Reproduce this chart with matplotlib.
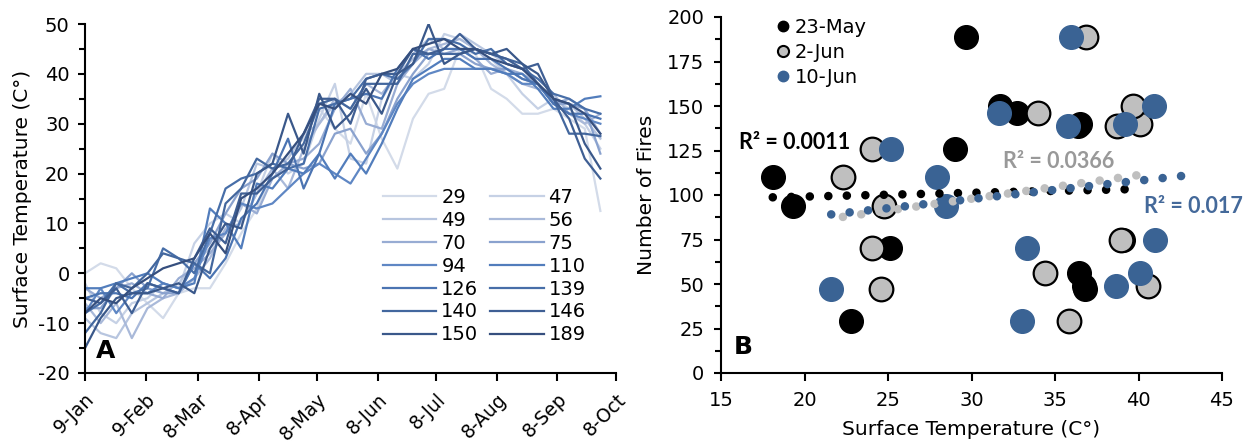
import matplotlib
matplotlib.use('Agg')
import matplotlib.pyplot as plt
from matplotlib.ticker import MultipleLocator
from matplotlib.lines import Line2D

# ---------------- Panel A data ----------------
doy = [9, 17, 25, 33, 41, 49, 57, 65, 73, 81, 89, 97, 105, 113, 121, 129, 137,
       145, 153, 161, 169, 177, 185, 193, 201, 209, 217, 225, 233, 241, 249, 257, 265, 273]

site_labels = ['29', '47', '49', '56', '70', '75', '94', '110', '126', '139', '140', '146', '150', '189']

temp_29  = [0, 2, 1, -3, -6, -9, -4, -3, -3, 2, 8, 13, 20, 24, 27, 33, 29, 26, 36, 27, 21, 31, 36, 37, 45, 44, 37, 35, 32, 32, 33, 31, 29, 12.5]
temp_47  = [-2, -8, -10, -6, -5, -2, -3, 6, 10, 12, 10, 16, 24, 20, 22, 31, 38, 23, 22, 35, 40, 39, 42, 48, 47, 45, 43, 40, 36, 33, 35, 33, 30, 25]
temp_49  = [-9, -12, -13, -8, -6, -4, -2, 2, 5, 8, 13, 22, 21, 23, 28, 30, 34, 36, 40, 40, 38, 44, 47, 45, 48, 46, 44, 42, 41, 38, 35, 34, 31, 27]
temp_56  = [-6, -10, -6, -13, -7, -5, -4, -1, 3, 9, 10, 16, 21, 17, 25, 30, 35, 33, 38, 36, 40, 43, 45, 46, 47, 45, 42, 40, 38, 37, 36, 32, 30, 32]
temp_70  = [-3, -5, -3, -2, -4, -5, -1, 1, 4, 8, 14, 12, 19, 22, 23, 26, 33, 37, 30, 29, 38, 42, 45, 44, 45, 43, 40, 41, 40, 38, 34, 35, 33, 28]
temp_75  = [-7, -7, -3, 0, -3, -4, -4, 2, 6, 12, 17, 19, 24, 22, 21, 22, 28, 29, 24, 28, 35, 40, 44, 44, 44, 42, 41, 41, 39, 38, 34, 34, 33, 24]
temp_94  = [-8, -3, -8, -4, -4, -2, -3, -1, 7, 8, 14, 13, 14, 17, 20, 22, 20, 18, 23, 28, 34, 38, 40, 41, 41, 41, 41, 40, 38, 38, 34, 32, 31, 30]
temp_110 = [-3, -3, -2, -1, 0, -2, -3, -2, 13, 10, 5, 18, 17, 21, 20, 24, 19, 24, 20, 26, 33, 39, 41, 43, 43, 41, 41, 40, 40, 37, 33, 33, 35, 35.5]
temp_126 = [-5, -4, -4, -5, -2, -3, -4, 2, -1, 3, 11, 14, 20, 27, 17, 24, 34, 35, 36, 35, 41, 45, 43, 45, 45, 43, 43, 41, 39, 38, 34, 32, 32, 31]
temp_139 = [-8, -6, -2, -4, -3, 5, 3, 0, 8, 17, 19, 20, 22, 21, 22, 33, 34, 35, 39, 40, 39, 42, 47, 47, 46, 44, 45, 42, 41, 39, 36, 35, 33, 32]
temp_140 = [-12, -8, -2, -3, 0, 4, 3, 2, 0, 14, 17, 23, 21, 22, 26, 34, 35, 33, 38, 38, 38, 44, 44, 44, 44, 45, 44, 43, 42, 38, 35, 28, 28, 27.5]
temp_146 = [-5, -6, -3, -8, -2, -3, -4, 3, 9, 6, 16, 16, 19, 21, 28, 35, 35, 30, 39, 40, 40, 45, 44, 45, 48, 45, 44, 43, 41, 42, 35, 31, 23, 19]
temp_150 = [-15, -9, -5, -4, -4, -3, -2, -4, 5, 10, 9, 20, 22, 32, 24, 36, 29, 32, 37, 32, 40, 42, 50, 42, 44, 45, 44, 45, 42, 40, 35, 34, 26, 21]
temp_189 = [-8, -5, -6, -3, -1, 1, 2, 3, 8, 4, 15, 17, 20, 24, 28, 34, 33, 36, 34, 40, 41, 45, 46, 47, 45, 45, 43, 42, 41, 38, 35, 34, 32, 28]

date_tick_doy = [9, 40, 67, 98, 128, 159, 189, 220, 251, 281]
date_tick_labels = ['9-Jan', '9-Feb', '8-Mar', '8-Apr', '8-May', '8-Jun', '8-Jul', '8-Aug', '8-Sep', '8-Oct']

# ---------------- Panel B data ----------------
fires = [29, 47, 49, 56, 70, 75, 94, 110, 126, 139, 140, 146, 150, 189]
temp_may23 = [22.8, 36.8, 36.75, 36.45, 25.1, 39.1, 19.3, 18.1, 29.0, 36.4, 36.5, 32.7, 31.7, 29.7]
temp_jun02 = [35.85, 24.6, 40.57, 34.39, 24.03, 38.94, 24.75, 22.3, 24.03, 38.7, 40.1, 33.98, 39.66, 36.84]
temp_jun10 = [33.02, 21.57, 38.65, 40.09, 33.31, 41.0, 28.5, 27.92, 25.18, 35.78, 39.18, 31.65, 40.93, 35.94]

trend_may23_x = [18.1, 39.2]
trend_may23_y = [98.7, 103.2]
trend_jun02_x = [22.3, 40.0]
trend_jun02_y = [87.7, 111.2]
trend_jun10_x = [21.6, 42.6]
trend_jun10_y = [89.1, 110.7]

r2_labels = ['R² = 0.0011', 'R² = 0.0366', 'R² = 0.017']
series_names = ['23-May', '2-Jun', '10-Jun']

# ---------------- styling ----------------
line_colors = ['#d3dbe9', '#c6d1e5', '#b7c5df', '#a9b9d9', '#98acd3', '#8aa2ce',
               '#5f87c4', '#527dbc', '#4b74b2', '#476ea8', '#43679e', '#3f5f94',
               '#3a588a', '#364f7e']
blue = '#3a6394'
grey = '#bfbfbf'

plt.rcParams['font.family'] = ['DejaVu Sans']
plt.rcParams['axes.linewidth'] = 1.5
plt.rcParams['axes.unicode_minus'] = False

W, H = 1245, 443
fig = plt.figure(figsize=(W / 100, H / 100), dpi=100)

def ax_rect(l, r, t, b):
    return [l / W, 1 - b / H, (r - l) / W, (b - t) / H]

# ---------------- Panel A ----------------
axA = fig.add_axes(ax_rect(85, 616, 24, 373))
all_series = [temp_29, temp_47, temp_49, temp_56, temp_70, temp_75, temp_94,
              temp_110, temp_126, temp_139, temp_140, temp_146, temp_150, temp_189]
handles = []
for vals, lab, col in zip(all_series, site_labels, line_colors):
    h, = axA.plot(doy, vals, color=col, lw=1.6, label=lab)
    handles.append(h)

axA.set_xlim(9, 281)
axA.set_ylim(-20, 50)
axA.set_xticks(date_tick_doy)
axA.set_xticklabels(date_tick_labels, rotation=45, ha='right', va='top',
                    rotation_mode='anchor', fontsize=13.5)
axA.yaxis.set_major_locator(MultipleLocator(10))
axA.yaxis.set_minor_locator(MultipleLocator(5))
axA.tick_params(axis='y', which='major', length=5, width=1.5, labelsize=14, direction='out', pad=6)
axA.tick_params(axis='y', which='minor', length=4, width=1.5, direction='out')
axA.tick_params(axis='x', which='major', length=6, width=1.5, direction='out', pad=6)
for s in ['top', 'right']:
    axA.spines[s].set_visible(False)
axA.set_ylabel('Surface Temperature (C°)', fontsize=14.5, labelpad=4)
axA.text(0.02, 0.03, 'A', transform=axA.transAxes, fontsize=18, fontweight='bold',
         ha='left', va='bottom')

order = [0, 2, 4, 6, 8, 10, 12, 1, 3, 5, 7, 9, 11, 13]
legA = axA.legend([handles[i] for i in order], [site_labels[i] for i in order],
                  ncol=2, frameon=False, fontsize=14,
                  loc='upper left', bbox_to_anchor=(383 / W, 1 - 188 / H),
                  bbox_transform=fig.transFigure, borderpad=0, borderaxespad=0,
                  handlelength=2.75, handletextpad=0.25, labelspacing=0.2,
                  columnspacing=0.6)

# ---------------- Panel B ----------------
axB = fig.add_axes(ax_rect(721, 1222, 17, 373))
axB.scatter(temp_may23, fires, s=290, color='black', zorder=3)
axB.scatter(temp_jun02, fires, s=290, color=grey, edgecolors='black', linewidths=1.6, zorder=3)
axB.scatter(temp_jun10, fires, s=290, color=blue, zorder=3)

dot_style = dict(lw=6.2, dash_capstyle='round', linestyle=(0, (0.001, 2.15)), zorder=4)
axB.plot(trend_may23_x, trend_may23_y, color='black', **dot_style)
axB.plot(trend_jun02_x, trend_jun02_y, color=grey, **dot_style)
axB.plot(trend_jun10_x, trend_jun10_y, color=blue, **dot_style)

axB.set_xlim(15, 45)
axB.set_ylim(0, 200)
axB.xaxis.set_major_locator(MultipleLocator(5))
axB.yaxis.set_major_locator(MultipleLocator(25))
axB.yaxis.set_minor_locator(MultipleLocator(12.5))
axB.tick_params(axis='y', which='major', length=5, width=1.5, labelsize=14, direction='out', pad=7)
axB.tick_params(axis='y', which='minor', length=4, width=1.5, direction='out')
axB.tick_params(axis='x', which='major', length=6, width=1.5, labelsize=14, direction='out', pad=7)
for s in ['top', 'right']:
    axB.spines[s].set_visible(False)
axB.set_xlabel('Surface Temperature (C°)', fontsize=14.5, labelpad=7)
axB.set_ylabel('Number of Fires', fontsize=14.5, labelpad=8)
axB.text(0.025, 0.04, 'B', transform=axB.transAxes, fontsize=18, fontweight='bold',
         ha='left', va='bottom')

r2_font = dict(family=['Lato', 'DejaVu Sans'], fontweight='bold', fontsize=15.5, clip_on=False)
axB.text(16.1, 129.5, r2_labels[0], color='black', va='center', ha='left', **r2_font)
axB.text(31.9, 118.8, r2_labels[1], color='#999999', va='center', ha='left', **r2_font)
axB.text(40.3, 93.4, r2_labels[2], color='#44699a', va='center', ha='left', **r2_font)

leg_handles = [
    Line2D([], [], ls='none', marker='o', markersize=7.5, color='black'),
    Line2D([], [], ls='none', marker='o', markersize=8, markerfacecolor=grey,
           markeredgecolor='black', markeredgewidth=1.5),
    Line2D([], [], ls='none', marker='o', markersize=7.5, color=blue),
]
axB.legend(leg_handles, series_names, frameon=False, fontsize=14,
           loc='upper left', bbox_to_anchor=(776 / W, 1 - 18 / H),
           bbox_transform=fig.transFigure, borderpad=0, borderaxespad=0,
           handlelength=0.7, handletextpad=0.25, labelspacing=0.3)

fig.savefig('out.png', dpi=100)
